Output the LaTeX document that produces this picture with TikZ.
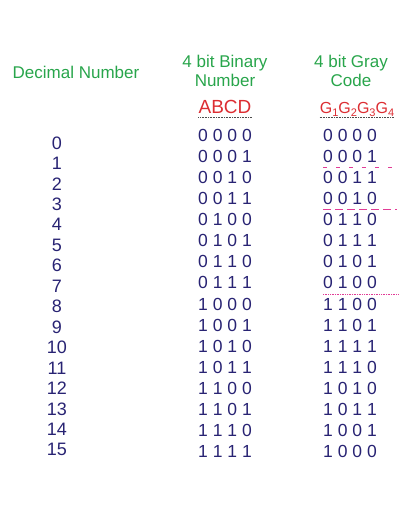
\documentclass[tikz,border=0pt]{standalone}
\usepackage{fontspec}
\setmainfont{Liberation Sans}
\definecolor{hdrgreen}{RGB}{40,165,75}
\definecolor{lblred}{RGB}{220,45,50}
\definecolor{digitblue}{RGB}{40,35,115}
\definecolor{mirrorpink}{RGB}{225,60,150}
\newcommand{\gsub}[1]{G\raisebox{-3.5pt}{\fontsize{11}{11}\selectfont #1}}
\begin{document}
\begin{tikzpicture}[x=1pt, y=-1pt, every node/.style={inner sep=0pt, text=digitblue, font=\fontsize{18}{18}\selectfont},
  head/.style={anchor=base, text=hdrgreen, font=\fontsize{17}{17}\selectfont},
  lbl/.style={anchor=base, text=lblred},
  underl/.style={draw=black!70, densely dotted, line width=0.6pt},
  mirror/.style={draw=mirrorpink, line width=0.7pt}]
  \useasboundingbox (0,0) rectangle (418,514);
  % column heads
  \node[head] (dechead) at (76,78) {Decimal Number};
  \node[head] (binhead) at (225,67) {4 bit Binary};
  \node[head] (binhead2) at (225,86) {Number};
  \node[head] (grayhead) at (351,67) {4 bit Gray};
  \node[head] (grayhead2) at (351,86) {Code};
  \node[lbl, font=\fontsize{19}{19}\selectfont] (abcd) at (225,113) {ABCD};
  \node[lbl, font=\fontsize{16}{16}\selectfont] (gbits) at (357,113) {\gsub{1}\gsub{2}\gsub{3}\gsub{4}};
  \draw[underl] ([yshift=-4pt]abcd.base west) -- ([yshift=-4pt]abcd.base east);
  \draw[underl] ([yshift=-4.5pt]gbits.base west) -- ([yshift=-4.5pt]gbits.base east);
  % table rows
  \foreach \dec/\bin/\gray [count=\k from 0] in {0/0 0 0 0/0 0 0 0, 1/0 0 0 1/0 0 0 1, 2/0 0 1 0/0 0 1 1,
      3/0 0 1 1/0 0 1 0, 4/0 1 0 0/0 1 1 0, 5/0 1 0 1/0 1 1 1, 6/0 1 1 0/0 1 0 1, 7/0 1 1 1/0 1 0 0,
      8/1 0 0 0/1 1 0 0, 9/1 0 0 1/1 1 0 1, 10/1 0 1 0/1 1 1 1, 11/1 0 1 1/1 1 1 0,
      12/1 1 0 0/1 0 1 0, 13/1 1 0 1/1 0 1 1, 14/1 1 1 0/1 0 0 1, 15/1 1 1 1/1 0 0 0} {
    \node (dec\k) at (57,{143+20.45*\k}) {\dec};
    \node[font=\fontsize{17.5}{17.5}\selectfont] (bin\k) at (225,{135+21.13*\k}) {\bin};
    \node[font=\fontsize{17.5}{17.5}\selectfont] (gray\k) at (350,{135+21.13*\k}) {\gray};
  }
  % mirror lines
  \draw[mirror, dash pattern=on 4pt off 9pt] ([yshift=-4.5pt]gray1.south west) -- ([xshift=18pt,yshift=-4.5pt]gray1.south east);
  \draw[mirror, dash pattern=on 8pt off 4pt] ([yshift=-4.5pt]gray3.south west) -- ([xshift=20pt,yshift=-4.5pt]gray3.south east);
  \draw[mirror, densely dotted] ([yshift=-5pt]gray7.south west) -- ([xshift=21pt,yshift=-5pt]gray7.south east);
\end{tikzpicture}
\end{document}
